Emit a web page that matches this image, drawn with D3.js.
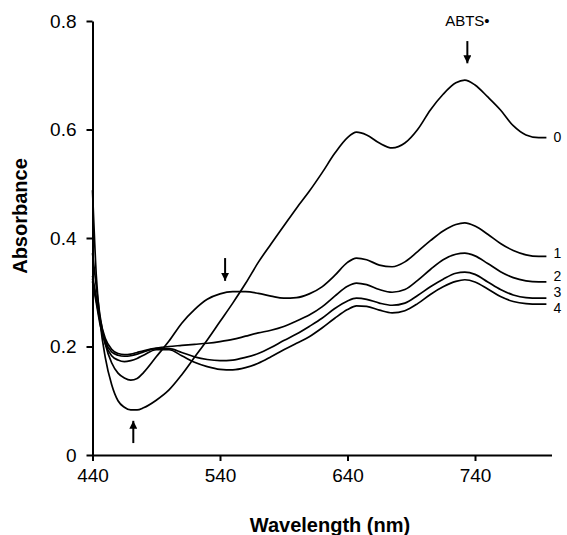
<!DOCTYPE html>
<html>
<head>
<meta charset="utf-8">
<script src="https://cdn.jsdelivr.net/npm/d3@7"></script>
<style>
  html, body { margin: 0; padding: 0; background: #fff; }
  svg { display: block; font-family: "Liberation Sans", Arial, sans-serif; }
</style>
</head>
<body>
<svg id="chart" width="567" height="535"></svg>
<script>
// ---- data ----
const wavelengths = [440, 443, 446, 450, 455, 460, 465, 470, 475, 480, 490, 500, 510, 520, 530, 540, 550, 560, 570, 580, 590, 600, 610, 620, 630, 640, 647, 655, 665, 675, 685, 695, 705, 715, 725, 732, 740, 750, 760, 770, 780, 790, 796];

const curve0 = [0.488, 0.33, 0.245, 0.18, 0.13, 0.10, 0.088, 0.083, 0.083, 0.087, 0.101, 0.12, 0.148, 0.18, 0.212, 0.246, 0.28, 0.316, 0.355, 0.389, 0.422, 0.455, 0.486, 0.52, 0.556, 0.585, 0.595, 0.59, 0.575, 0.566, 0.575, 0.6, 0.636, 0.665, 0.686, 0.691, 0.682, 0.66, 0.636, 0.607, 0.59, 0.585, 0.585];
const curve1 = [0.372, 0.31, 0.255, 0.205, 0.17, 0.151, 0.142, 0.138, 0.141, 0.152, 0.181, 0.21, 0.243, 0.268, 0.287, 0.297, 0.301, 0.301, 0.298, 0.293, 0.289, 0.29, 0.297, 0.31, 0.331, 0.355, 0.363, 0.36, 0.35, 0.347, 0.356, 0.375, 0.395, 0.413, 0.425, 0.428, 0.422, 0.407, 0.39, 0.377, 0.369, 0.366, 0.366];
const curve2 = [0.33, 0.29, 0.25, 0.215, 0.195, 0.187, 0.185, 0.186, 0.189, 0.192, 0.197, 0.2, 0.202, 0.204, 0.206, 0.209, 0.213, 0.219, 0.225, 0.23, 0.237, 0.247, 0.258, 0.273, 0.293, 0.311, 0.317, 0.314, 0.305, 0.3, 0.305, 0.322, 0.342, 0.36, 0.37, 0.372, 0.367, 0.353, 0.338, 0.327, 0.321, 0.319, 0.319];
const curve3 = [0.325, 0.285, 0.245, 0.21, 0.19, 0.184, 0.182, 0.183, 0.186, 0.19, 0.196, 0.196, 0.189, 0.181, 0.176, 0.174, 0.175, 0.18, 0.187, 0.198, 0.211, 0.223, 0.237, 0.252, 0.27, 0.284, 0.289, 0.287, 0.28, 0.276, 0.28, 0.294, 0.31, 0.324, 0.335, 0.337, 0.333, 0.319, 0.305, 0.295, 0.29, 0.289, 0.289];
const curve4 = [0.32, 0.28, 0.24, 0.205, 0.183, 0.175, 0.172, 0.174, 0.178, 0.184, 0.194, 0.194, 0.183, 0.171, 0.163, 0.158, 0.157, 0.161, 0.169, 0.181, 0.194, 0.206, 0.218, 0.234, 0.252, 0.268, 0.275, 0.274, 0.267, 0.262, 0.266, 0.279, 0.296, 0.31, 0.32, 0.323, 0.319, 0.306, 0.292, 0.283, 0.279, 0.278, 0.278];

const seriesLabels = ["0", "1", "2", "3", "4"];
const labelLevels = [0.586, 0.372, 0.329, 0.3, 0.271];   // absorbance level of each end label

const xTicks = [440, 540, 640, 740];
const yTicks = [0, 0.2, 0.4, 0.6, 0.8];

// annotation arrows: [wavelength, from absorbance, to absorbance]
const arrows = [[734, 0.763, 0.722], [544, 0.363, 0.321], [472, 0.022, 0.063]];
const topLabel = "ABTS•";

// ---- drawing ----
const svg = d3.select("#chart");
const x = d3.scaleLinear().domain([440, 800]).range([92.5, 551.5]);
const y = d3.scaleLinear().domain([0, 0.8]).range([455, 21]);

const series = [curve0, curve1, curve2, curve3, curve4];

const line = d3.line()
  .x((d, i) => x(wavelengths[i]))
  .y(d => y(d))
  .curve(d3.curveMonotoneX);

svg.append("g").selectAll("path")
  .data(series)
  .join("path")
  .attr("d", d => line(d))
  .attr("fill", "none")
  .attr("stroke", "#000")
  .attr("stroke-width", 1.7);

// axes
const xAxis = d3.axisBottom(x).tickValues(xTicks).tickSize(6).tickSizeOuter(0).tickPadding(8);
const gx = svg.append("g").attr("transform", `translate(0,${y(0)})`).call(xAxis);
gx.select(".domain").attr("stroke-width", 2);
gx.selectAll(".tick line").attr("stroke-width", 2);
gx.selectAll("text").attr("font-size", 19).attr("fill", "#000")
  .attr("font-family", "Liberation Sans, Arial, sans-serif");

const yAxis = d3.axisLeft(y).tickValues(yTicks).tickSize(6).tickSizeOuter(0).tickPadding(10)
  .tickFormat(d => d === 0 ? "0" : d3.format(".1f")(d));
const gy = svg.append("g").attr("transform", `translate(${x(440)},0)`).call(yAxis);
gy.select(".domain").attr("stroke-width", 2);
gy.selectAll(".tick line").attr("stroke-width", 2);
gy.selectAll("text").attr("font-size", 19).attr("fill", "#000")
  .attr("font-family", "Liberation Sans, Arial, sans-serif");

// axis titles
svg.append("text")
  .attr("x", 330).attr("y", 532)
  .attr("text-anchor", "middle")
  .attr("font-size", 20).attr("font-weight", "bold")
  .text("Wavelength (nm)");

svg.append("text")
  .attr("transform", `translate(27,${(y(0) + y(0.8)) / 2 - 22}) rotate(-90)`)
  .attr("text-anchor", "middle")
  .attr("font-size", 20).attr("font-weight", "bold")
  .text("Absorbance");

// series labels
svg.append("g").selectAll("text")
  .data(seriesLabels)
  .join("text")
  .attr("x", x(796) + 7)
  .attr("y", (d, i) => y(labelLevels[i]))
  .attr("dy", "0.35em")
  .attr("font-size", 14)
  .text(d => d);

// arrows
svg.append("defs").append("marker")
  .attr("id", "head")
  .attr("viewBox", "0 0 10 10")
  .attr("refX", 10).attr("refY", 5)
  .attr("markerWidth", 8).attr("markerHeight", 8)
  .attr("markerUnits", "userSpaceOnUse")
  .attr("orient", "auto")
  .append("path").attr("d", "M0,0 L10,5 L0,10 Z").attr("fill", "#000");

svg.append("g").selectAll("line")
  .data(arrows)
  .join("line")
  .attr("x1", d => x(d[0])).attr("x2", d => x(d[0]))
  .attr("y1", d => y(d[1])).attr("y2", d => y(d[2]))
  .attr("stroke", "#000").attr("stroke-width", 2)
  .attr("marker-end", "url(#head)");

svg.append("text")
  .attr("x", x(734)).attr("y", y(0.791))
  .attr("text-anchor", "middle")
  .attr("font-size", 15)
  .text(topLabel);
</script>
</body>
</html>
